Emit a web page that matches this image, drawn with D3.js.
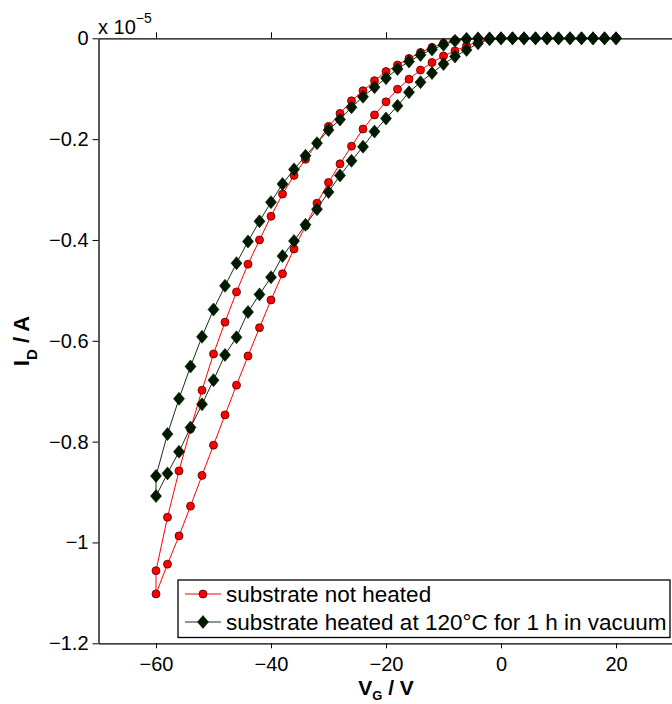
<!DOCTYPE html>
<html>
<head>
<meta charset="utf-8">
<script src="https://cdn.jsdelivr.net/npm/d3@7"></script>
<style>
  body { margin: 0; background: #fff; }
  svg { display: block; font-family: "Liberation Sans", Arial, sans-serif; }
</style>
</head>
<body>
<div id="chart"></div>
<script>
// gate voltage steps (V), same for every sweep
const vg = [-60, -58, -56, -54, -52, -50, -48, -46, -44, -42, -40, -38, -36, -34, -32, -30, -28, -26, -24, -22, -20,
  -18, -16, -14, -12, -10, -8, -6, -4, -2, 0, 2, 4, 6, 8, 10, 12, 14, 16, 18, 20];

// drain current in units of 1e-5 A
const notHeatedUp = [-1.056, -0.950, -0.858, -0.775, -0.698, -0.626, -0.563, -0.503, -0.448, -0.400, -0.353, -0.309,
  -0.272, -0.240, -0.208, -0.175, -0.149, -0.124, -0.104, -0.084, -0.066, -0.053, -0.040, -0.028, -0.018, -0.010,
  -0.004, -0.002, -0.001, 0, 0, 0, 0, 0, 0, 0, 0, 0, 0, 0, 0];
const notHeatedDown = [-1.102, -1.043, -0.987, -0.928, -0.867, -0.807, -0.747, -0.688, -0.630, -0.574, -0.519, -0.467,
  -0.418, -0.372, -0.327, -0.286, -0.249, -0.214, -0.180, -0.152, -0.126, -0.101, -0.081, -0.063, -0.048, -0.035,
  -0.025, -0.015, -0.007, -0.002, 0, 0, 0, 0, 0, 0, 0, 0, 0, 0, 0];
const heatedUp = [-0.868, -0.785, -0.715, -0.651, -0.592, -0.538, -0.491, -0.446, -0.403, -0.363, -0.325, -0.289,
  -0.260, -0.233, -0.208, -0.182, -0.161, -0.137, -0.116, -0.097, -0.079, -0.061, -0.046, -0.033, -0.022, -0.013,
  -0.005, -0.001, 0, 0, 0, 0, 0, 0, 0, 0, 0, 0, 0, 0, 0];
const heatedDown = [-0.908, -0.863, -0.820, -0.772, -0.726, -0.678, -0.628, -0.593, -0.543, -0.508, -0.474, -0.432,
  -0.402, -0.370, -0.339, -0.305, -0.272, -0.243, -0.215, -0.185, -0.159, -0.134, -0.107, -0.087, -0.069, -0.051,
  -0.036, -0.023, -0.010, -0.002, 0, 0, 0, 0, 0, 0, 0, 0, 0, 0, 0];

const xTicks = [-60, -40, -20, 0, 20];
const xTickLabels = ["\u221260", "\u221240", "\u221220", "0", "20"];
const yTicks = [0, -0.2, -0.4, -0.6, -0.8, -1, -1.2];
const yTickLabels = ["0", "\u22120.2", "\u22120.4", "\u22120.6", "\u22120.8", "\u22121", "\u22121.2"];
const legendLabels = ["substrate not heated", "substrate heated at 120\u00b0C for 1 h in vacuum"];

const width = 672, height = 704;
const svg = d3.select("#chart").append("svg").attr("width", width).attr("height", height);

const x = d3.scaleLinear().domain([-70, 30]).range([98.5, 673.5]);
const y = d3.scaleLinear().domain([-1.2, 0]).range([643.3, 38.3]);

// sweep goes 20 -> -60 on one branch and back -60 -> 20 on the other
function loop(up, down) {
  const a = vg.map((v, i) => [v, up[i]]).reverse();
  const b = vg.map((v, i) => [v, down[i]]);
  return a.concat(b);
}

const line = d3.line().x(d => x(d[0])).y(d => y(d[1]));
const diamond = "M0,-6.5L5.5,0L0,6.5L-5.5,0Z";

const red = loop(notHeatedUp, notHeatedDown);
const green = loop(heatedUp, heatedDown);

svg.append("path").datum(red).attr("d", line)
  .attr("fill", "none").attr("stroke", "#ff0000").attr("stroke-width", 1);
svg.append("g").selectAll("circle").data(red).enter().append("circle")
  .attr("cx", d => x(d[0])).attr("cy", d => y(d[1])).attr("r", 4)
  .attr("fill", "#ff0000").attr("stroke", "#4a0000").attr("stroke-width", 0.8);

svg.append("path").datum(green).attr("d", line)
  .attr("fill", "none").attr("stroke", "#163216").attr("stroke-width", 1);
svg.append("g").selectAll("path").data(green).enter().append("path")
  .attr("d", diamond)
  .attr("transform", d => `translate(${x(d[0])},${y(d[1])})`)
  .attr("fill", "#001a00").attr("stroke", "#001a00").attr("stroke-width", 0.6);

// axes
const fmtX = d => xTickLabels[xTicks.indexOf(d)];
const fmtY = d => yTickLabels[yTicks.indexOf(d)];

const gx = svg.append("g").attr("transform", `translate(0,${y(-1.2)})`)
  .call(d3.axisBottom(x).tickValues(xTicks).tickFormat(fmtX).tickSize(5).tickSizeOuter(0).tickPadding(9));
const gxTop = svg.append("g").attr("transform", `translate(0,${y(0)})`)
  .call(d3.axisTop(x).tickValues(xTicks).tickFormat("").tickSize(6).tickSizeOuter(0));
const gy = svg.append("g").attr("transform", `translate(${x(-70)},0)`)
  .call(d3.axisLeft(y).tickValues(yTicks).tickFormat(fmtY).tickSize(6).tickSizeOuter(0).tickPadding(4));
const gyRight = svg.append("g").attr("transform", `translate(${x(30)},0)`)
  .call(d3.axisRight(y).tickValues(yTicks).tickFormat("").tickSize(6).tickSizeOuter(0));

[gx, gxTop, gy, gyRight].forEach(g => {
  g.select(".domain").attr("stroke", "#000").attr("stroke-width", 1.3);
  g.selectAll(".tick line").attr("stroke", "#000");
  g.selectAll("text").attr("fill", "#000").style("font-size", "20px")
    .style("font-family", "'Liberation Sans', Arial, sans-serif");
});

// exponent marker
const ex = svg.append("text").attr("x", 98).attr("y", 33.5)
  .style("font-size", "20px").attr("fill", "#000");
ex.append("tspan").text("x 10");
ex.append("tspan").attr("dy", -11).style("font-size", "14px").text("\u22125");

// axis titles
const xt = svg.append("text").attr("x", 386).attr("y", 695).attr("text-anchor", "middle")
  .style("font-size", "21px").style("font-weight", "bold");
xt.append("tspan").text("V");
xt.append("tspan").attr("dy", 5).style("font-size", "13px").text("G");
xt.append("tspan").attr("dy", -5).text(" / V");

const yt = svg.append("text").attr("transform", "translate(29,341) rotate(-90)").attr("text-anchor", "middle")
  .style("font-size", "22px").style("font-weight", "bold");
yt.append("tspan").text("I");
yt.append("tspan").attr("dy", 8).style("font-size", "15px").text("D");
yt.append("tspan").attr("dy", -8).text(" / A");

// legend
const lg = svg.append("g");
lg.append("rect").attr("x", 178).attr("y", 580).attr("width", 492).attr("height", 57.5)
  .attr("fill", "#fff").attr("stroke", "#000").attr("stroke-width", 1.3);
const rows = lg.selectAll("g.row").data(legendLabels).enter().append("g")
  .attr("transform", (d, i) => `translate(0,${594 + i * 28})`);
rows.append("line").attr("x1", 185).attr("x2", 221).attr("y1", 0).attr("y2", 0)
  .attr("stroke", (d, i) => i === 0 ? "#ff0000" : "#163216");
rows.each(function (d, i) {
  const r = d3.select(this);
  if (i === 0) {
    r.append("circle").attr("cx", 203).attr("cy", 0).attr("r", 4)
      .attr("fill", "#ff0000").attr("stroke", "#4a0000").attr("stroke-width", 0.8);
  } else {
    r.append("path").attr("d", diamond).attr("transform", "translate(203,0)")
      .attr("fill", "#001a00").attr("stroke", "#001a00").attr("stroke-width", 0.6);
  }
});
rows.append("text").attr("x", 226).attr("y", 0).attr("dy", "0.35em")
  .style("font-size", "22.5px").attr("fill", "#000").text(d => d);
</script>
</body>
</html>
